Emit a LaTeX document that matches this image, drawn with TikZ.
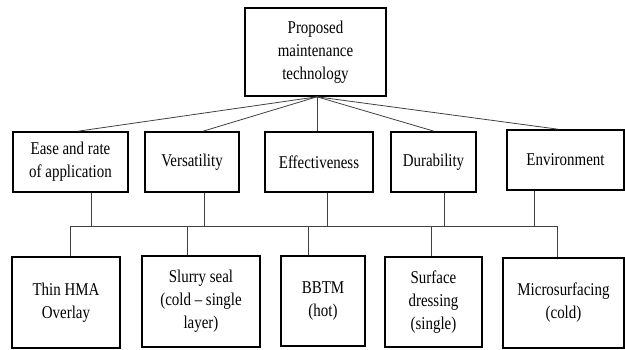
\documentclass[tikz,border=0pt]{standalone}
\usepackage{fontspec}
\setmainfont[FakeStretch=0.83]{Liberation Serif}
\begin{document}
\begin{tikzpicture}[x=1pt,y=1pt,
  box/.style={draw=black,line width=1.6pt,align=center,inner sep=0pt,
    font=\fontsize{18}{23}\selectfont},
  link/.style={draw=black!75,line width=0.8pt}]
\useasboundingbox (0,0) rectangle (625,-349);
\node[box,minimum width=141pt,minimum height=88pt] (top) at (315.5,-52) {Proposed\\maintenance\\technology};
\node[box,minimum width=115pt,minimum height=60pt] (m1) at (70.5,-162) {Ease and rate\\of application};
\node[box,minimum width=94pt,minimum height=60pt] (m2) at (192,-162) {Versatility};
\node[box,minimum width=108pt,minimum height=60pt] (m3) at (319,-162) {Effectiveness};
\node[box,minimum width=85pt,minimum height=60pt] (m4) at (433.5,-162) {Durability};
\node[box,minimum width=117pt,minimum height=60pt] (m5) at (565.5,-160) {Environment};
\node[box,minimum width=108pt,minimum height=91pt] (b1) at (66,-302.5) {Thin HMA\\Overlay};
\node[box,minimum width=118pt,minimum height=91pt] (b2) at (201,-301.5) {Slurry seal\\(cold -- single\\layer)};
\node[box,minimum width=84pt,minimum height=90pt] (b3) at (323,-301) {BBTM\\(hot)};
\node[box,minimum width=97pt,minimum height=90pt] (b4) at (433.5,-302) {Surface\\dressing\\(single)};
\node[box,minimum width=121pt,minimum height=90pt] (b5) at (563.5,-303) {Microsurfacing\\(cold)};
\coordinate (hl) at (0,-226);
\coordinate (hs) at ([xshift=4pt]b1.north |- hl);
\coordinate (he) at ([xshift=-6.5pt]b5.north |- hl);
% fan
\draw[link] ([xshift=1.5pt]top.south) -- ([xshift=7.5pt]m1.north);
\draw[link] ([xshift=1.5pt]top.south) -- ([xshift=11pt]m2.north);
\draw[link] ([xshift=1.5pt]top.south) -- ([xshift=-2pt]m3.north);
\draw[link] ([xshift=1.5pt]top.south) -- ([xshift=0.5pt]m4.north);
\draw[link] ([xshift=1.5pt]top.south) -- ([xshift=-7.5pt]m5.north);
% bus
\draw[link] (hs) -- (he);
\draw[link] ([xshift=20.5pt]m1.south) -- ([xshift=20.5pt]m1.south |- hl);
\draw[link] ([xshift=12pt]m2.south) -- ([xshift=12pt]m2.south |- hl);
\draw[link] ([xshift=8pt]m3.south) -- ([xshift=8pt]m3.south |- hl);
\draw[link] ([xshift=10.5pt]m4.south) -- ([xshift=10.5pt]m4.south |- hl);
\draw[link] ([xshift=-31.5pt]m5.south) -- ([xshift=-31.5pt]m5.south |- hl);
\draw[link] (hs) -- ([xshift=4pt]b1.north);
\draw[link] ([xshift=-14pt]b2.north |- hl) -- ([xshift=-14pt]b2.north);
\draw[link] ([xshift=-15pt]b3.north |- hl) -- ([xshift=-15pt]b3.north);
\draw[link] ([xshift=-2.5pt]b4.north |- hl) -- ([xshift=-2.5pt]b4.north);
\draw[link] (he) -- ([xshift=-6.5pt]b5.north);
\end{tikzpicture}
\end{document}
